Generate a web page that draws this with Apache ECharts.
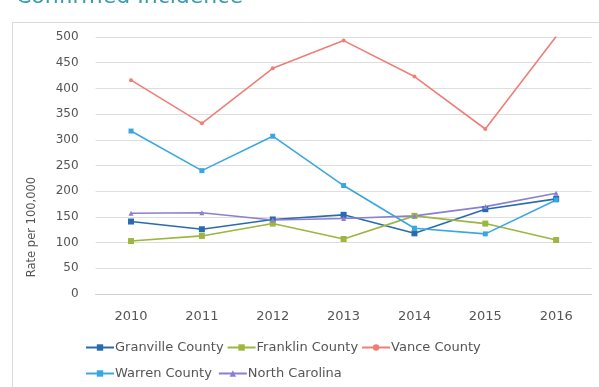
<!DOCTYPE html>
<html><head><meta charset="utf-8">
<script src="https://cdn.jsdelivr.net/npm/echarts@6/dist/echarts.min.js"></script>
<style>html,body{margin:0;padding:0;background:#fff}#c{width:599px;height:387px}</style>
</head><body><div id="c"></div>
<script>
const years = ['2010','2011','2012','2013','2014','2015','2016'];
const granville = [141, 126, 145, 154, 118, 165, 185];
const franklin = [103, 113, 137, 107, 152, 137, 105];
const vance = [416, 332, 439, 493, 423, 321, 501];
const warren = [317, 240, 307, 211, 128, 117, 183];
const northCarolina = [157, 158, 144, 147, 152, 170, 196];
const yTicks = [0, 50, 100, 150, 200, 250, 300, 350, 400, 450, 500];

const font = 'DejaVu Sans';
const txt = '#555555';
function ser(name, data, color, symbol, size) {
  return {name, type:'line', data, color, symbol, symbolSize:size,
    lineStyle:{width:1.6, color}, itemStyle:{color}, z: 3};
}
const chart = echarts.init(document.getElementById('c'));
chart.setOption({
  animation:false,
  graphic:[
    {type:'rect', shape:{x:12.5,y:22.5,width:600,height:400}, style:{fill:'none', stroke:'#d9d9d9', lineWidth:1}},
    {type:'text', left:16, top:-14, style:{text:'Confirmed Incidence', fill:'#3b9bb0', font:'22px "DejaVu Sans"'}},
    {type:'text', x:32, y:227, rotation:Math.PI/2, style:{text:'Rate per 100,000', fill:txt, font:'11.5px "DejaVu Sans"', align:'center', verticalAlign:'middle'}}
  ],
  grid:{left:95.6, right:7.4, top:37, bottom:93},
  xAxis:{type:'category', data:years, boundaryGap:true,
    axisLine:{lineStyle:{color:'#d0d0d0'}}, axisTick:{show:false},
    axisLabel:{color:txt, fontFamily:font, fontSize:13, margin:16}},
  yAxis:{type:'value', min:yTicks[0], max:yTicks[yTicks.length-1], interval:50,
    axisLine:{show:false}, axisTick:{show:false},
    splitLine:{lineStyle:{color:'#dedede'}},
    axisLabel:{color:txt, fontFamily:font, fontSize:12, margin:17}},
  legend:[
    {data:['Granville County','Franklin County','Vance County'], left:80, top:336, itemWidth:28, itemHeight:8, itemGap:3,
     textStyle:{color:txt, fontFamily:font, fontSize:13, padding:[0,0,0,-4]}},
    {data:['Warren County','North Carolina'], left:80, top:362, itemWidth:28, itemHeight:8, itemGap:6,
     textStyle:{color:txt, fontFamily:font, fontSize:13, padding:[0,0,0,-4]}}
  ],
  series:[
    ser('Granville County', granville, '#2a6bb0', 'rect', 6),
    ser('Franklin County', franklin, '#9cb63e', 'rect', 6),
    ser('Vance County', vance, '#ee7f77', 'circle', 4),
    ser('Warren County', warren, '#3aa8e0', 'rect', 5),
    ser('North Carolina', northCarolina, '#8d7fd0', 'triangle', 5)
  ]
});
</script></body></html>
